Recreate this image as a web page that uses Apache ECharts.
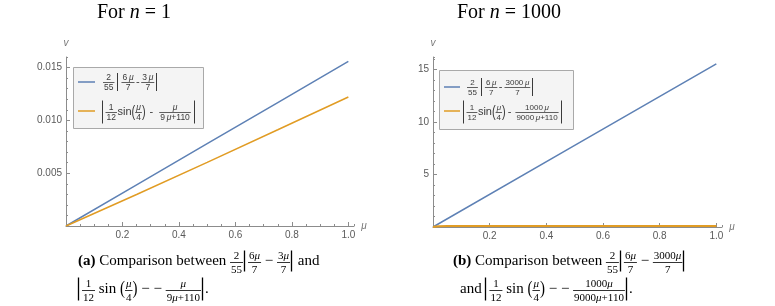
<!DOCTYPE html>
<html><head><meta charset="utf-8">
<script src="https://cdn.jsdelivr.net/npm/echarts@6/dist/echarts.min.js"></script>
<style>html,body{margin:0;padding:0;background:#fff}#c{width:775px;height:306px}</style>
</head><body><div id="c"></div>
<script>
// ---------- data ----------
const muA      = [0, 0.25, 0.5, 0.75, 1.0];
const blueA    = [0, 0.00390, 0.00779, 0.01169, 0.01558];
const orangeA  = [0, 0.00298, 0.00602, 0.00911, 0.01221];
const muB      = [0, 0.5, 1.0];
const blueB    = [0, 7.78, 15.55];
const muOrB    = [0, 0.005, 0.01, 0.02, 0.05, 0.1, 0.2, 0.4, 0.6, 0.8, 1.0];
const orangeB  = [0, 0.032, 0.049, 0.067, 0.088, 0.097, 0.101, 0.100, 0.096, 0.093, 0.089];
const xTickStep = 0.2, xMinorStep = 0.05, xMax = 1.02;
const yStepA = 0.005, yMinorA = 0.001, yMaxA = 0.016;
const yStepB = 5, yMinorB = 1, yMaxB = 16.2;
const titleA = ['For ', 'n', ' = 1'];
const titleB = ['For ', 'n', ' = 1000'];

// ---------- helpers ----------
const SERIF = '"Liberation Serif", "Times New Roman", serif';
const SANS = '"Liberation Sans", Arial, sans-serif';
const BLUE = '#5E81B5', ORANGE = '#E19C24';
const AX = '#8c8c8c', LBL = '#5a5a5a';
const ctx = document.createElement('canvas').getContext('2d');
function tw(s, size, fam, style, weight) {
  ctx.font = (style || 'normal') + ' ' + (weight || 'normal') + ' ' + size + 'px ' + fam;
  return ctx.measureText(s).width;
}
function rt(s, size, fam, color, bold) {
  const rich = {
    r: {fontSize: size, fontFamily: fam, fill: color, fontWeight: bold ? 'bold' : 'normal'},
    i: {fontSize: size, fontFamily: fam, fill: color, fontStyle: 'italic', fontWeight: bold ? 'bold' : 'normal'}
  };
  let text = '', w = 0;
  s.split(/(μ)/).forEach(p => {
    if (!p) return;
    const it = p === 'μ';
    text += '{' + (it ? 'i' : 'r') + '|' + p + '}';
    w += tw(p, size, fam, it ? 'italic' : 'normal', bold ? 'bold' : 'normal');
  });
  return {text, rich, w};
}
function txt(x, y, r, align, sy) {
  const e = {type: 'text', x: x, y: y, z: 100,
    style: {text: r.text, rich: r.rich, align: align || 'left', verticalAlign: 'middle'}};
  if (sy) e.scaleY = sy;
  return e;
}
function mathRow(els, x0, yc, items, o) {
  let x = x0;
  items.forEach(it => {
    if (it.g !== undefined) { x += it.g; return; }
    if (it.bar) {
      const xx = Math.round(x) + 0.5;
      els.push({type: 'line', z: 100, shape: {x1: xx, y1: yc - it.bar / 2, x2: xx, y2: yc + it.bar / 2},
        style: {stroke: o.color, lineWidth: o.barW || 1}});
      x += 1 + (o.barPad || 1); return;
    }
    if (it.f) {
      const fs = it.fs || o.ffs;
      const n = rt(it.f[0], fs, o.fam, o.color), d = rt(it.f[1], fs, o.fam, o.color);
      const w = Math.max(n.w, d.w) + 2 * (o.fpad || 1);
      const by = Math.round(yc + (o.fdy || 0)) + 0.5, cx = x + w / 2;
      els.push(txt(cx, by - fs * 0.58, n, 'center'));
      els.push(txt(cx, by + fs * 0.66, d, 'center'));
      els.push({type: 'line', z: 100, shape: {x1: x, y1: by, x2: x + w, y2: by},
        style: {stroke: o.color, lineWidth: o.fbw || 0.8}});
      x += w; return;
    }
    const fs = it.fs || o.fs;
    const r = rt(it.t, fs, o.fam, o.color, it.b);
    els.push(txt(x, yc + (it.dy || 0), r, 'left', it.sy));
    x += r.w;
  });
  return x;
}

// ---------- axes ----------
function xAxes(gi) {
  return [
    {type: 'value', gridIndex: gi, position: 'bottom', min: 0, max: xMax, interval: xTickStep,
      name: 'μ', nameLocation: 'end', nameGap: 6,
      nameTextStyle: {fontStyle: 'italic', color: '#777', fontSize: 10, fontFamily: SANS, padding: [4, 0, 0, 0]},
      axisLine: {onZero: false, lineStyle: {color: AX, width: 1}},
      axisTick: {inside: true, length: 4, lineStyle: {color: AX}},
      axisLabel: {showMinLabel: false, showMaxLabel: false, formatter: v => v.toFixed(1),
        color: LBL, fontSize: 10, fontFamily: SANS, margin: 4},
      splitLine: {show: false}},
    {type: 'value', gridIndex: gi, position: 'bottom', min: 0, max: xMax, interval: xMinorStep,
      axisLine: {show: false}, axisTick: {inside: true, length: 2, lineStyle: {color: AX}},
      axisLabel: {show: false}, splitLine: {show: false}}
  ];
}
function yAxes(gi, step, minor, max, fmt) {
  return [
    {type: 'value', gridIndex: gi, position: 'left', min: 0, max: max, interval: step,
      name: 'v', nameLocation: 'end', nameGap: 9,
      nameTextStyle: {fontStyle: 'italic', color: '#777', fontSize: 10, fontFamily: SANS},
      axisLine: {onZero: false, lineStyle: {color: AX, width: 1}},
      axisTick: {inside: true, length: 4, lineStyle: {color: AX}},
      axisLabel: {showMinLabel: false, showMaxLabel: false, formatter: fmt,
        color: LBL, fontSize: 10, fontFamily: SANS, margin: 4},
      splitLine: {show: false}},
    {type: 'value', gridIndex: gi, position: 'left', min: 0, max: max, interval: minor,
      axisLine: {show: false}, axisTick: {inside: true, length: 2, lineStyle: {color: AX}},
      axisLabel: {show: false}, splitLine: {show: false}}
  ];
}

// ---------- graphic (titles, legends, captions) ----------
const els = [];
function title(x, parts) {
  const rich = {r: {fontSize: 20, fontFamily: SERIF, fill: '#000'},
    i: {fontSize: 20, fontFamily: SERIF, fill: '#000', fontStyle: 'italic'}};
  const text = '{r|' + parts[0] + '}{i|' + parts[1] + '}{r|' + parts[2] + '}';
  els.push({type: 'text', x: x, y: 13, z: 100, style: {text, rich, align: 'center', verticalAlign: 'middle'}});
}
title(134, titleA);
title(509, titleB);

// legends
function legendBox(x, y, w, h) {
  els.push({type: 'rect', z: 90, shape: {x: x + 0.5, y: y + 0.5, width: w, height: h},
    style: {fill: '#f4f4f4', stroke: '#a9a9a9', lineWidth: 1}});
}
function swatch(x1, x2, y, c) {
  els.push({type: 'line', z: 100, shape: {x1, y1: y, x2, y2: y}, style: {stroke: c, lineWidth: 1.5}});
}
const LG = {fam: SANS, fs: 11, ffs: 8.5, color: '#3a3a3a', barW: 1, fpad: 1, barPad: 1.5};
legendBox(73, 67, 130, 61);
swatch(78, 95, 82, BLUE);
swatch(78, 95, 111, ORANGE);
mathRow(els, 103, 82, [{f: ['2', '55']}, {g: 3}, {bar: 18}, {g: 1.5}, {f: ['6\u2009μ', '7']}, {g: 1.5},
  {t: '-'}, {g: 1.5}, {f: ['3\u2009μ', '7']}, {g: 2}, {bar: 18}], LG);
mathRow(els, 102, 112, [{bar: 23}, {g: 1}, {f: ['1', '12']}, {g: 0.5}, {t: 'sin'}, {t: '(', fs: 11, sy: 1.5},
  {f: ['μ', '4']}, {t: ')', fs: 11, sy: 1.5}, {g: 4}, {t: '-'}, {g: 6}, {f: ['μ', '9\u2009μ+110']}, {g: 3}, {bar: 23}], LG);

const LG2 = Object.assign({}, LG, {ffs: 8});
legendBox(439, 70, 134, 59);
swatch(444, 460, 87, BLUE);
swatch(444, 460, 111, ORANGE);
mathRow(els, 467, 87, [{f: ['2', '55']}, {g: 3}, {bar: 18}, {g: 1.5}, {f: ['6\u2009μ', '7']}, {g: 1.5},
  {t: '-'}, {g: 2}, {f: ['3000\u2009μ', '7']}, {g: 2}, {bar: 18}], LG2);
mathRow(els, 463, 112, [{bar: 23}, {g: 1}, {f: ['1', '12']}, {g: 0.5}, {t: 'sin'}, {t: '(', fs: 11, sy: 1.5},
  {f: ['μ', '4']}, {t: ')', fs: 11, sy: 1.5}, {g: 2}, {t: '-'}, {g: 4}, {f: ['1000\u2009μ', '9000\u2009μ+110']}, {g: 2}, {bar: 23}], LG2);

// captions
const CP = {fam: SERIF, fs: 15, ffs: 11, color: '#000', barW: 1.3, fpad: 1, barPad: 2, fdy: 1};
mathRow(els, 78, 261, [{t: '(a)', b: true}, {t: ' Comparison between '}, {f: ['2', '55']}, {g: 1}, {bar: 21}, {g: 1},
  {f: ['6μ', '7']}, {t: ' − '}, {f: ['3μ', '7']}, {g: 1}, {bar: 21}, {t: ' and'}], CP);
mathRow(els, 78, 289, [{bar: 23}, {g: 1}, {f: ['1', '12']}, {t: ' sin '}, {t: '(', sy: 1.3}, {f: ['μ', '4']},
  {t: ')', sy: 1.3}, {t: ' − − '}, {f: ['μ', '9μ+110']}, {g: 1}, {bar: 23}, {t: '.'}], CP);
mathRow(els, 453, 261, [{t: '(b)', b: true}, {t: ' Comparison between '}, {f: ['2', '55']}, {g: 1}, {bar: 21}, {g: 1},
  {f: ['6μ', '7']}, {t: ' − '}, {f: ['3000μ', '7']}, {g: 1}, {bar: 21}], CP);
mathRow(els, 460, 289, [{t: 'and '}, {bar: 23}, {g: 1}, {f: ['1', '12']}, {t: ' sin '}, {t: '(', sy: 1.3}, {f: ['μ', '4']},
  {t: ')', sy: 1.3}, {t: ' − − '}, {f: ['1000μ', '9000μ+110']}, {g: 1}, {bar: 23}, {t: '.'}], CP);

// ---------- chart ----------
const pairs = (xs, ys) => xs.map((x, i) => [x, ys[i]]);
const chart = echarts.init(document.getElementById('c'));
chart.setOption({
  animation: false,
  backgroundColor: '#fff',
  grid: [{left: 66, top: 57, width: 288, height: 169}, {left: 433, top: 57, width: 289, height: 170}],
  xAxis: [].concat(xAxes(0), xAxes(1)),
  yAxis: [].concat(
    yAxes(0, yStepA, yMinorA, yMaxA, v => v.toFixed(3)),
    yAxes(1, yStepB, yMinorB, yMaxB, v => String(Math.round(v)))),
  series: [
    {type: 'line', xAxisIndex: 0, yAxisIndex: 0, data: pairs(muA, blueA), showSymbol: false,
      lineStyle: {color: BLUE, width: 1.5}, itemStyle: {color: BLUE}},
    {type: 'line', xAxisIndex: 0, yAxisIndex: 0, data: pairs(muA, orangeA), showSymbol: false,
      lineStyle: {color: ORANGE, width: 1.5}, itemStyle: {color: ORANGE}},
    {type: 'line', xAxisIndex: 2, yAxisIndex: 2, data: pairs(muB, blueB), showSymbol: false,
      lineStyle: {color: BLUE, width: 1.5}, itemStyle: {color: BLUE}},
    {type: 'line', xAxisIndex: 2, yAxisIndex: 2, data: pairs(muOrB, orangeB), showSymbol: false,
      lineStyle: {color: ORANGE, width: 2}, itemStyle: {color: ORANGE}}
  ],
  graphic: {elements: els}
});
</script></body></html>
